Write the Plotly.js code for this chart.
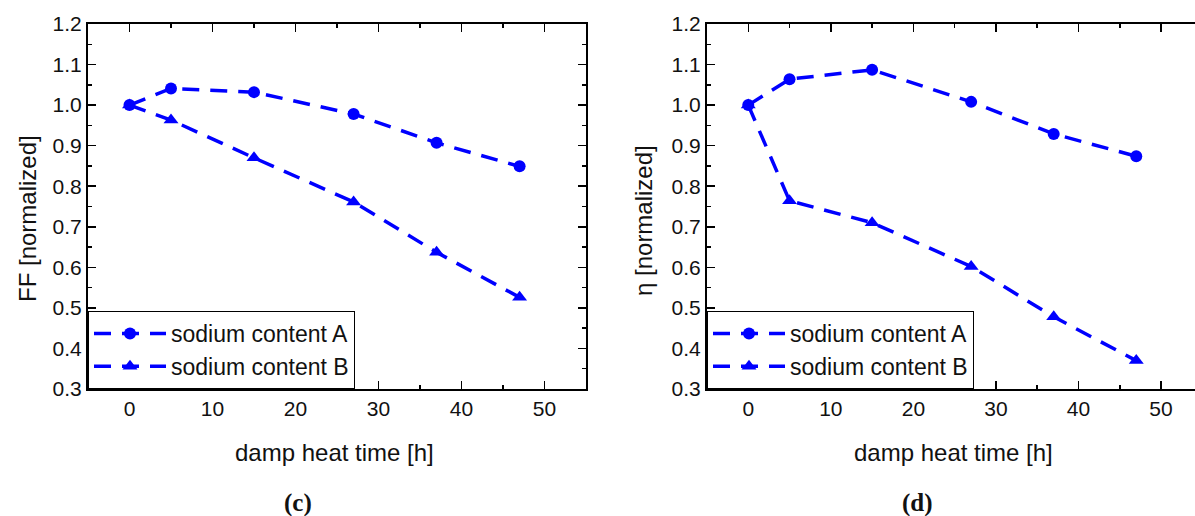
<!DOCTYPE html>
<html>
<head>
<meta charset="utf-8">
<script src="https://cdn.plot.ly/plotly-3.0.1.min.js"></script>
<style>html,body{margin:0;padding:0;background:#fff;}#chart{width:1195px;height:516px;}</style>
</head>
<body>
<div id="chart"></div>
<script>
const hours = [0, 5, 15, 27, 37, 47];
const ffA = [1.000, 1.041, 1.032, 0.978, 0.907, 0.849];
const ffB = [1.000, 0.963, 0.870, 0.761, 0.637, 0.526];
const etaA = [1.000, 1.064, 1.087, 1.008, 0.929, 0.874];
const etaB = [1.000, 0.764, 0.710, 0.602, 0.478, 0.370];
const seriesNames = ['sodium content A', 'sodium content B'];
const panelLabels = ['(c)', '(d)'];
const yTitles = ['FF [normalized]', 'η [normalized]'];
const xTitle = 'damp heat time [h]';

const blue = '#0000FF';
function tr(x, y, name, sym, xa, ya) {
  return {
    x: x, y: y, name: name, type: 'scatter', mode: 'lines+markers',
    xaxis: xa, yaxis: ya, showlegend: true, legend: xa === 'x' ? 'legend' : 'legend2',
    line: {color: blue, width: 3.5, dash: '17px,11px'},
    marker: {color: blue, symbol: sym, size: sym === 'circle' ? 12 : 13}
  };
}
const data = [
  tr(hours, ffA, seriesNames[0], 'circle', 'x', 'y'),
  tr(hours, ffB, seriesNames[1], 'triangle-up', 'x', 'y'),
  tr(hours, etaA, seriesNames[0], 'circle', 'x2', 'y2'),
  tr(hours, etaB, seriesNames[1], 'triangle-up', 'x2', 'y2')
];
const W = 1195, H = 516;
const yTop = 24, yBot = 389;
const ydom = [(H - yBot) / H, (H - yTop) / H];
const fam = 'Arial, Liberation Sans, sans-serif';
const tickFont = {family: fam, size: 21, color: '#111'};
const titleFont = {family: fam, size: 24, color: '#111'};
function xax(dom, anchor, range) {
  return {
    domain: dom, anchor: anchor, range: range, tickvals: [0,10,20,30,40,50],
    ticks: 'inside', ticklen: 8, tickwidth: 1.5, tickcolor: '#000',
    showline: true, linecolor: '#000', linewidth: 2, mirror: 'ticks',
    showgrid: false, zeroline: false, tickfont: tickFont,
    minor: {dtick: 5, tick0: 0, ticks: 'inside', ticklen: 4, tickcolor: '#000', tickwidth: 1.5, showgrid: false}
  };
}
function yax(dom, anchor, mirror) {
  return {
    domain: dom, anchor: anchor, range: [0.3, 1.2], dtick: 0.1, tick0: 0.3, tickformat: '.1f',
    ticks: 'inside', ticklen: 8, tickwidth: 1.5, tickcolor: '#000',
    showline: true, linecolor: '#000', linewidth: 2, mirror: mirror,
    showgrid: false, zeroline: false, tickfont: tickFont,
    minor: {dtick: 0.05, tick0: 0.3, ticks: 'inside', ticklen: 4, tickcolor: '#000', tickwidth: 1.5, showgrid: false}
  };
}
function legendCfg(xpx) {
  return {x: xpx / W, y: (H - yBot) / H, xanchor: 'left', yanchor: 'bottom',
    bordercolor: '#000', borderwidth: 1, bgcolor: '#fff', font: {family: fam, size: 23, color: '#111'},
    tracegroupgap: 0, itemwidth: 72};
}
function ann(text, xpx, ypx, font, angle) {
  return {text: text, xref: 'paper', yref: 'paper', x: xpx / W, y: (H - ypx) / H,
    xanchor: 'center', yanchor: 'middle', showarrow: false, font: font, textangle: angle || 0};
}
const panelFont = {family: 'Times New Roman, Liberation Serif, serif', size: 25, color: '#111'};
const layout = {
  width: W, height: H,
  margin: {l: 0, r: 0, t: 0, b: 0},
  paper_bgcolor: '#fff', plot_bgcolor: '#fff',
  xaxis: xax([88 / W, 586 / W], 'y', [-5, 55]),
  yaxis: yax(ydom, 'x', 'ticks'),
  xaxis2: xax([707 / W, 1], 'y2', [-5, (1195 - 748) / 8.26]),
  yaxis2: yax(ydom, 'x2', false),
  legend: legendCfg(88),
  legend2: legendCfg(707),
  annotations: [
    ann(xTitle, 334, 452, titleFont),
    ann(xTitle, 953, 452, titleFont),
    ann(yTitles[0], 27, 219, titleFont, -90),
    ann(yTitles[1], 643, 221, titleFont, -90),
    ann('<b>' + panelLabels[0] + '</b>', 298, 503, panelFont),
    ann('<b>' + panelLabels[1] + '</b>', 917, 503, panelFont)
  ]
};
Plotly.newPlot('chart', data, layout, {displayModeBar: false, staticPlot: true});
</script>
</body>
</html>
